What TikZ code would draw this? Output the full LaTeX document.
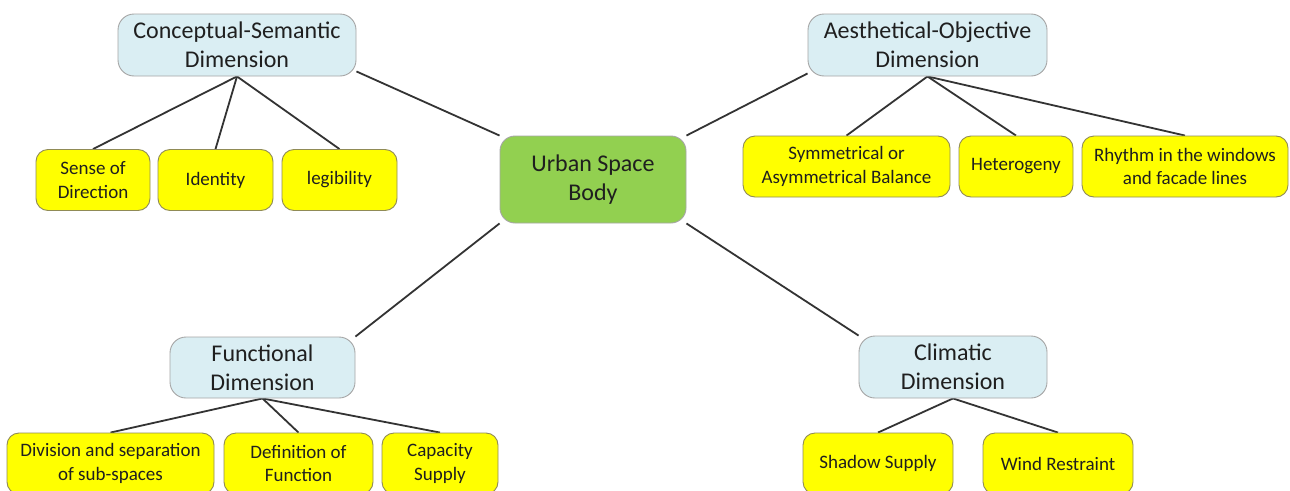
\documentclass[tikz,border=0pt]{standalone}
\usepackage{fontspec}
\setmainfont{Carlito}
\usetikzlibrary{backgrounds}
\definecolor{dimblue}{HTML}{DAEEF3}
\definecolor{urbgreen}{HTML}{92D050}
\definecolor{leafyellow}{HTML}{FFFF00}
\definecolor{txt}{HTML}{1F1F1F}
\definecolor{conn}{HTML}{333333}
\tikzset{
  dimbox/.style={draw=gray!70, line width=0.9pt, fill=dimblue, rounded corners=16pt,
    inner sep=0pt, align=center, text=txt, font=\fontsize{24}{29}\selectfont},
  urbbox/.style={draw=gray!70, line width=0.9pt, fill=urbgreen, rounded corners=15pt,
    inner sep=0pt, align=center, text=txt, font=\fontsize{24}{29}\selectfont,
    minimum width=186pt, minimum height=87pt},
  leafbox/.style={draw=gray!60!olive, line width=0.9pt, fill=leafyellow, rounded corners=12pt,
    inner sep=0pt, align=center, text=txt, font=\fontsize{19}{23.5}\selectfont,
    minimum height=61pt},
  link/.style={draw=conn, line width=1.8pt}
}
\begin{document}
\begin{tikzpicture}[x=1pt,y=-1pt]
\useasboundingbox (0,0) rectangle (1290,490);
\clip (0,0) rectangle (1290,490);

% central node
\node[urbbox] (urb) at (593,179.5) {Urban Space\\Body};

% dimension nodes
\node[dimbox, minimum width=238pt, minimum height=62pt] (cs) at (237,45) {Conceptual-Semantic\\Dimension};
\node[dimbox, minimum width=239pt, minimum height=62pt] (ao) at (927.5,45) {Aesthetical-Objective\\Dimension};
\node[dimbox, minimum width=185pt, minimum height=61pt] (fn) at (262.5,367.5) {Functional\\Dimension};
\node[dimbox, minimum width=188pt, minimum height=62pt] (cl) at (953,367) {Climatic\\Dimension};

% leaves: conceptual-semantic
\node[leafbox, minimum width=114pt] (sd) at (93,180) {Sense of\\Direction};
\node[leafbox, minimum width=115pt] (id) at (215.5,180) {Identity};
\node[leafbox, minimum width=115pt] (lg) at (339.5,180) {legibility};

% leaves: aesthetical-objective
\node[leafbox, minimum width=207pt] (sy) at (846.5,166.5) {Symmetrical or\\Asymmetrical Balance};
\node[leafbox, minimum width=114pt] (he) at (1016,166.5) {Heterogeny};
\node[leafbox, minimum width=206pt] (rh) at (1185,166.5) {Rhythm in the windows\\and facade lines};

% leaves: functional
\node[leafbox, minimum width=207pt] (dv) at (110.5,463.5) {Division and separation\\of sub-spaces};
\node[leafbox, minimum width=149pt] (df) at (298.5,463.5) {Definition of\\Function};
\node[leafbox, minimum width=116pt] (cp) at (440,463.5) {Capacity\\Supply};

% leaves: climatic
\node[leafbox, minimum width=150pt] (sh) at (878,463.5) {Shadow Supply};
\node[leafbox, minimum width=150pt] (wr) at (1058,463.5) {Wind Restraint};

\begin{scope}[on background layer]
\fill[white] (0,0) rectangle (1290,490);
\draw[link] (urb.north west) -- ([yshift=5pt]cs.south east);
\draw[link] (urb.north east) -- ([yshift=3pt]ao.south west);
\draw[link] (urb.south west) -- (fn.north east);
\draw[link] (urb.south east) -- (cl.north west);
\draw[link] (cs.south) -- (sd.north);
\draw[link] (cs.south) -- (id.north);
\draw[link] (cs.south) -- (lg.north);
\draw[link] (ao.south) -- (sy.north);
\draw[link] (ao.south) -- (he.north);
\draw[link] (ao.south) -- (rh.north);
\draw[link] (fn.south) -- (dv.north);
\draw[link] (fn.south) -- (df.north);
\draw[link] (fn.south) -- (cp.north);
\draw[link] (cl.south) -- (sh.north);
\draw[link] (cl.south) -- (wr.north);
\end{scope}
\end{tikzpicture}
\end{document}
